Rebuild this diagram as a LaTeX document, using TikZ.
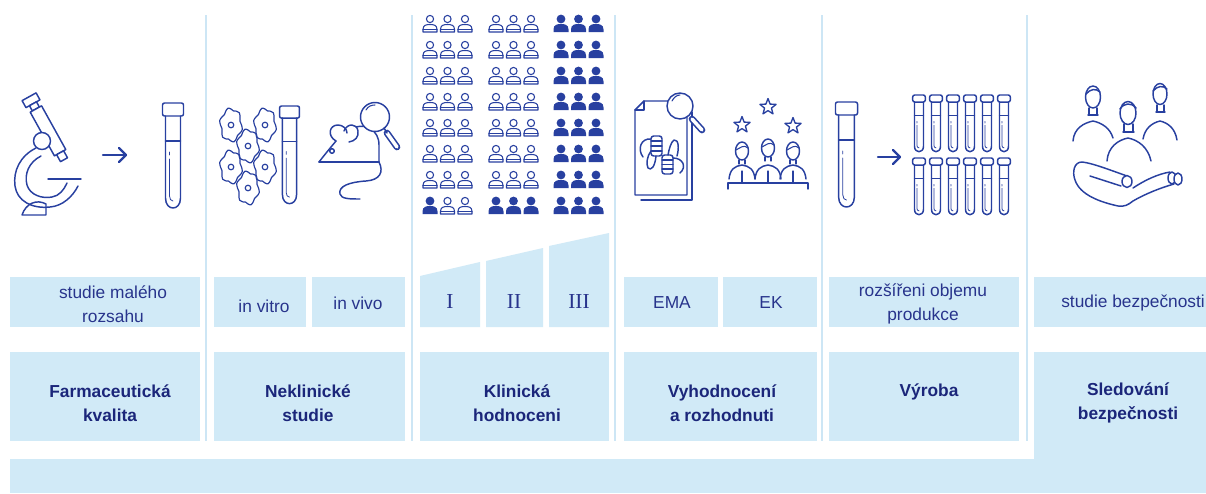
\documentclass[tikz,border=0pt]{standalone}
\usepackage{fontspec}
\setmainfont{Liberation Sans}
\newfontfamily\romanfont{Liberation Serif}
\usetikzlibrary{calc}

\definecolor{boxblue}{RGB}{209,234,247}
\definecolor{ruleblue}{RGB}{205,230,245}
\definecolor{navy}{RGB}{27,38,122}
\definecolor{labelblue}{RGB}{40,52,140}
\definecolor{iconblue}{RGB}{40,64,160}

\tikzset{
  panel/.style={fill=boxblue, draw=none},
  divider/.style={draw=ruleblue, line width=1.6pt},
  lbl/.style={text=labelblue, align=center, inner sep=0pt, font=\fontsize{13}{18}\selectfont},
  title/.style={text=navy, align=center, inner sep=0pt, font=\bfseries\fontsize{13}{18}\selectfont},
  phase/.style={text=labelblue, inner sep=0pt, font=\romanfont\fontsize{16}{18}\selectfont},
  ico/.style={draw=iconblue, line width=1.1pt, line join=round, line cap=round},
  thin/.style={ico, line width=0.8pt},
  % outlined person
  pout/.pic={
    \draw[thin] (0,5) circle (3.6);
    \draw[thin] (-7,18) -- (-7,15.5) .. controls (-7,11) and (-3.5,10.5) .. (0,10.5)
      .. controls (3.5,10.5) and (7,11) .. (7,15.5) -- (7,18) -- cycle;
    \draw[thin] (-7,15.5) -- (7,15.5);
  },
  % filled person
  pfill/.pic={
    \fill[iconblue] (0,5) circle (4.4);
    \fill[iconblue] (-7.5,18) -- (-7.5,15.5) .. controls (-7.5,10.5) and (-3.5,10) .. (0,10)
      .. controls (3.5,10) and (7.5,10.5) .. (7.5,15.5) -- (7.5,18) -- cycle;
  },
  % test tube, origin at the top centre of the cap
  tube/.pic={
    \draw[ico] (-7.5,13) -- (-7.5,95) .. controls (-7.5,102) and (-3.5,105) .. (0,105)
      .. controls (3.5,105) and (7.5,102) .. (7.5,95) -- (7.5,13);
    \draw[ico, rounded corners=1.5] (-10.5,0) rectangle (10.5,13);
    \draw[ico] (-7.5,38) -- (7.5,38);
    \draw[thin, line width=0.6pt] (-3.5,49) -- (-3.5,52) (-3.5,56) -- (-3.5,93)
      .. controls (-3.5,96) and (-2,98) .. (0,98);
  },
  star/.pic={
    \draw[thin, line width=1pt] (-90:8.5) -- (-54:3.6) -- (-18:8.5) -- (18:3.6) -- (54:8.5) -- (90:3.6)
      -- (126:8.5) -- (162:3.6) -- (198:8.5) -- (234:3.6) -- cycle;
  }
}

\begin{document}
\begin{tikzpicture}[x=0.75pt,y=-0.75pt]
\useasboundingbox (0,0) rectangle (1206,493);
\fill[white] (0,0) rectangle (1206,493);

% column dividers
\foreach \dx in {206,412,615,822,1027}
  \draw[divider] (\dx,15) -- (\dx,441);

% upper row of panels
\fill[panel] (10,277) rectangle (200,327);
\fill[panel] (214,277) rectangle (306,327);
\fill[panel] (312,277) rectangle (405,327);
\fill[panel] (420,327) -- (420,276) -- (480,262) -- (480,327) -- cycle;
\fill[panel] (486,327) -- (486,261) -- (543,248) -- (543,327) -- cycle;
\fill[panel] (549,327) -- (549,246) -- (609,233) -- (609,327) -- cycle;
\fill[panel] (624,277) rectangle (718,327);
\fill[panel] (723,277) rectangle (817,327);
\fill[panel] (829,277) rectangle (1019,327);
\fill[panel] (1034,277) rectangle (1206,327);

% lower row of panels and base band
\fill[panel] (10,352) rectangle (200,441);
\fill[panel] (214,352) rectangle (405,441);
\fill[panel] (420,352) rectangle (609,441);
\fill[panel] (624,352) rectangle (817,441);
\fill[panel] (829,352) rectangle (1019,441);
\fill[panel] (1034,352) rectangle (1206,493);
\fill[panel] (10,459) rectangle (1206,493);

% labels of the upper row
\node[lbl] (small)  at (113,304) {studie malého\\rozsahu};
\node[lbl] (vitro)  at (264,306) {in vitro};
\node[lbl] (vivo)   at (358,303) {in vivo};
\node[phase] (ph1)  at (450,302) {I};
\node[phase] (ph2)  at (514,302) {II};
\node[phase] (ph3)  at (579,302) {III};
\node[lbl] (ema)    at (672,303) {EMA};
\node[lbl] (ek)     at (771,303) {EK};
\node[lbl] (scale)  at (923,304) {rozšířeni objemu\\produkce};
\node[lbl, anchor=west] (safety) at (1061,303) {studie bezpečnosti};

% titles of the lower row
\node[title] (farm) at (110,403) {Farmaceutická\\kvalita};
\node[title] (nekl) at (308,403) {Neklinické\\studie};
\node[title] (klin) at (517,403) {Klinická\\hodnoceni};
\node[title] (vyh)  at (722,403) {Vyhodnocení\\a rozhodnuti};
\node[title] (vyr)  at (929,392) {Výroba};
\node[title] (sled) at (1128,403) {Sledování\\bezpečnosti};

% ---- microscope
\draw[ico] (36,148) .. controls (20,156) and (13,171) .. (15,186)
  .. controls (17,201) and (32,209) .. (50,207) .. controls (63,206) and (73,196) .. (78,186);
\draw[ico] (41,156) .. controls (29,162) and (24,174) .. (27,185)
  .. controls (30,195) and (42,199) .. (52,197) .. controls (59,196) and (64,190) .. (67,183);
\draw[ico] (48,179) -- (81,179);
\draw[ico] (22,215) -- (46,215) -- (46,204) .. controls (37,199) and (26,203) .. (22,215);
\begin{scope}[shift={(32,102)}, rotate=29]
  \draw[ico, fill=white] (-8,-6) rectangle (8,2);
  \draw[ico, fill=white] (-4,2) rectangle (4,8);
  \draw[ico, fill=white] (-6.5,8) rectangle (6.5,58);
  \draw[ico, fill=white] (-4,58) rectangle (4,66);
\end{scope}
\draw[ico, fill=white] (42,141) circle (8.5);
% arrow
\draw[ico, line width=1.7pt] (103,155) -- (126,155);
\draw[ico, line width=1.7pt] (119,148) -- (126,155) -- (119,162);
\pic at (173,103) {tube};

% ---- cells
\foreach \cx/\cy in {231/125, 265/125, 248/146, 231/167, 265/167, 248/188} {
  \draw[thin, line width=0.9pt] plot[smooth cycle, domain=0:345, samples=24, variable=\t]
    ({\cx + (10.5+1.2*sin(6*\t))*cos(\t)}, {\cy + (16+1.4*sin(6*\t))*sin(\t)});
  \draw[thin, line width=0.9pt] (\cx,\cy) circle (2.8);
}
\pic[xscale=0.95, yscale=0.93] at (289.5,106) {tube};

% ---- mouse under a magnifier
\draw[ico] (319,162) -- (379,162);
\draw[ico] (319,162) .. controls (326,153) and (331,147) .. (336,141);
\draw[ico] (336,141) .. controls (327,136) and (329,125) .. (338,125)
  .. controls (343,125) and (347,129) .. (347,133);
\draw[ico] (344,131) .. controls (347,123) and (357,123) .. (358,131)
  .. controls (359,137) and (355,141) .. (349,142);
\draw[ico] (356,127) .. controls (366,124) and (379,130) .. (379,145) -- (379,162);
\draw[ico] (332,151) circle (2.3);
\draw[ico] (379,162) .. controls (384,172) and (380,180) .. (366,181)
  .. controls (350,182) and (338,186) .. (340,194) .. controls (341,199) and (350,199) .. (360,199);
\draw[ico, fill=white] (375,117) circle (14.5);
\draw[thin] (366,110) .. controls (368,106) and (372,105) .. (375,105);
\draw[iconblue, line width=5pt, line cap=round] (387,133) -- (397,147);
\draw[white, line width=2.6pt, line cap=round] (387,133) -- (397,147);
\draw[ico] (384,128) -- (387,133);

% ---- people in three trial phases
\foreach \r in {0,...,6}
  \foreach \px in {430,447.5,465,496,513.5,531}
    \pic at (\px,{14+26*\r}) {pout};
\foreach \r in {0,...,7}
  \foreach \px in {561,578.5,596}
    \pic at (\px,{14+26*\r}) {pfill};
\pic at (430,196) {pfill};
\pic at (447.5,196) {pout};
\pic at (465,196) {pout};
\pic at (496,196) {pfill};
\pic at (513.5,196) {pfill};
\pic at (531,196) {pfill};

% ---- dossier under review
\draw[ico] (641,200) -- (692,200) -- (692,112);
\draw[ico, fill=white] (644,101) -- (687,101) -- (687,195) -- (635,195) -- (635,110) -- cycle;
\draw[ico] (635,110) -- (644,110) -- (644,101);
\draw[ico, fill=white] (680,106) circle (13);
\draw[thin] (672,101) .. controls (674,97) and (677,95) .. (680,95);
\draw[iconblue, line width=5pt, line cap=round] (692,119) -- (702,130);
\draw[white, line width=2.6pt, line cap=round] (692,119) -- (702,130);
% thumb down
\draw[ico, rounded corners=2] (651,136) rectangle (662,156);
\draw[thin] (651,141) -- (662,141) (651,146) -- (662,146) (651,151) -- (662,151);
\draw[ico] (651,151) .. controls (647,156) and (646,164) .. (648,168)
  .. controls (651,171) and (655,167) .. (656,156);
\draw[ico] (651,139) .. controls (641,138) and (637,149) .. (643,157);
% thumb up
\draw[ico, rounded corners=2] (662,155) rectangle (673,174);
\draw[thin] (662,160) -- (673,160) (662,164.5) -- (673,164.5) (662,169) -- (673,169);
\draw[ico] (668,155) .. controls (669,149) and (671,142) .. (674,140)
  .. controls (679,139) and (679,149) .. (677,156);
\draw[ico] (673,158) .. controls (683,158) and (687,167) .. (680,173);

% ---- committee
\pic at (742,125) {star};
\pic at (768,107) {star};
\pic at (793,126) {star};
\foreach \hx/\hy in {742/151, 768/148, 793/151} {
  \draw[ico] (\hx-13,179) .. controls (\hx-12,169) and (\hx-7,166) .. (\hx,165)
    .. controls (\hx+7,166) and (\hx+12,169) .. (\hx+13,179);
  \draw[ico, fill=white] (\hx,\hy) ellipse (6.5 and 9);
  \draw[thin] (\hx-6,\hy-1) .. controls (\hx-2,\hy-3) and (\hx+2,\hy-7) .. (\hx+6,\hy-3);
  \draw[thin] (\hx-3,\hy+9) -- (\hx-3,\hy+13) (\hx+3,\hy+9) -- (\hx+3,\hy+13);
  \draw[thin] (\hx,171) -- (\hx,183);
}
\draw[ico] (728,189) -- (728,183) -- (808,183) -- (808,189);

% ---- production scale-up
\pic[xscale=1.05] at (846.5,102) {tube};
\draw[ico, line width=1.7pt] (878,157) -- (900,157);
\draw[ico, line width=1.7pt] (893,150) -- (900,157) -- (893,164);
\foreach \tx in {919,936,953,970,987,1004} {
  \pic[xscale=0.6, yscale=0.54] at (\tx,95) {tube};
  \pic[xscale=0.6, yscale=0.54] at (\tx,158) {tube};
}

% ---- people held in a hand
\draw[ico] (1073,141) .. controls (1074,128) and (1084,123) .. (1093,121)
  .. controls (1102,123) and (1110,128) .. (1113,138);
\draw[ico] (1143,139) .. controls (1145,128) and (1152,123) .. (1160,121)
  .. controls (1168,123) and (1175,128) .. (1177,140);
\draw[ico, fill=white] (1093,97) ellipse (7.5 and 11);
\draw[ico, fill=white] (1160,94) ellipse (7 and 10.5);
\draw[ico] (1089,108) -- (1089,115) (1097,108) -- (1097,115) (1088,115) -- (1098,115);
\draw[ico] (1157,105) -- (1157,112) (1164,105) -- (1164,112) (1156,112) -- (1165,112);
\draw[ico] (1086,94) .. controls (1090,89) and (1096,88) .. (1100,92);
\draw[ico] (1153,91) .. controls (1157,86) and (1163,85) .. (1167,89);
\draw[ico, fill=white] (1107,161) .. controls (1108,147) and (1118,140) .. (1128,138)
  .. controls (1138,140) and (1148,147) .. (1151,161);
\draw[ico] (1124,124) -- (1124,132) (1133,124) -- (1133,132) (1123,132) -- (1134,132);
\draw[ico, fill=white] (1128,113) ellipse (8 and 11.5);
\draw[ico] (1120,109) .. controls (1124,103) and (1131,102) .. (1136,108);
% hand
\draw[ico] (1127,176) .. controls (1110,170) and (1092,163) .. (1082,162)
  .. controls (1074,162) and (1072,172) .. (1075,180)
  .. controls (1080,195) and (1100,202) .. (1118,206)
  .. controls (1124,207) and (1128,205) .. (1133,201)
  .. controls (1145,194) and (1160,188) .. (1174,184);
\draw[ico] (1090,176) -- (1121,186);
\draw[ico, fill=white] (1127,181.5) ellipse (5 and 6);
\draw[ico] (1133,188) .. controls (1145,180) and (1158,174) .. (1170,172);
\draw[ico, fill=white] (1172,178) ellipse (4 and 6);
\draw[ico, fill=white] (1178,179) ellipse (4 and 6);
\end{tikzpicture}
\end{document}
